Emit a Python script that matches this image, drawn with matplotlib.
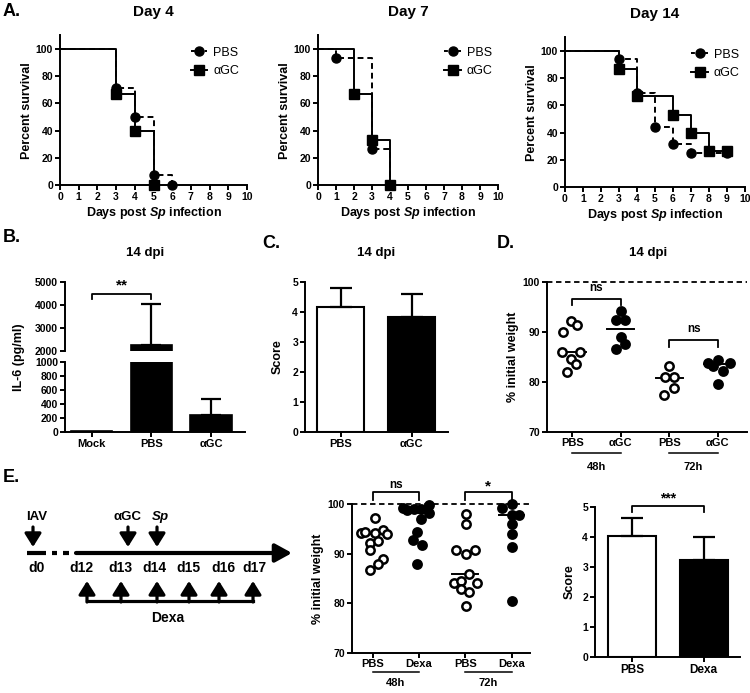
import matplotlib
matplotlib.use("Agg")
import matplotlib.pyplot as plt
from matplotlib.lines import Line2D
import numpy as np

plt.rcParams['font.family'] = ['Liberation Sans', 'DejaVu Sans']
plt.rcParams['font.weight'] = 'bold'
plt.rcParams['axes.labelweight'] = 'bold'
plt.rcParams['axes.titleweight'] = 'bold'
plt.rcParams['mathtext.fontset'] = 'custom'
plt.rcParams['mathtext.it'] = 'Liberation Sans:bold:italic'
plt.rcParams['mathtext.rm'] = 'Liberation Sans:bold'

# ---- A. survival curves (days, percent survival) ----
day4_pbs_t = [0, 3, 4, 5, 6]
day4_pbs_s = [100, 71.4, 50, 7.1, 0]
day4_agc_t = [0, 3, 4, 5]
day4_agc_s = [100, 66.7, 40, 0]
day7_pbs_t = [0, 1, 3, 4]
day7_pbs_s = [100, 93.3, 26.7, 0]
day7_agc_t = [0, 2, 3, 4]
day7_agc_s = [100, 66.7, 33.3, 0]
day14_pbs_t = [0, 3, 4, 5, 6, 7, 9]
day14_pbs_s = [100, 93.8, 68.8, 43.8, 31.3, 25, 25]
day14_agc_t = [0, 3, 4, 6, 7, 8, 9]
day14_agc_s = [100, 86.7, 66.7, 53.3, 40, 26.7, 26.7]

# ---- B. IL-6 ----
b_groups = ['Mock', 'PBS', 'αGC']
b_mean = [20, 2250, 240]
b_sd = [0, 1800, 230]

# ---- C. score ----
c_groups = ['PBS', 'αGC']
c_mean = [4.17, 3.85]
c_sd = [0.63, 0.75]

# ---- D. weight 14 dpi ----
d_labels = ['PBS', 'αGC', 'PBS', 'αGC']
d_pbs48 = [90.0, 92.3, 91.5, 86.1, 86.1, 84.7, 83.7, 82.1]
d_pbs48_jit = [-0.19, -0.03, 0.10, -0.22, 0.17, -0.03, 0.08, -0.11]
d_agc48 = [94.3, 92.5, 92.5, 89.1, 86.6, 87.6]
d_agc48_jit = [0.0, -0.1, 0.09, 0.0, -0.09, 0.09]
d_pbs72 = [83.2, 81.0, 81.0, 78.9, 77.4]
d_pbs72_jit = [0.0, -0.09, 0.09, 0.09, -0.1]
d_agc72 = [83.9, 84.4, 83.9, 83.3, 82.3, 79.6]
d_agc72_jit = [-0.21, 0.0, 0.25, -0.1, 0.1, 0.0]
d_median = [86.1, 90.6, 80.8, 83.6]

# ---- E. dexa weight ----
e_labels = ['PBS', 'Dexa', 'PBS', 'Dexa']
e_pbs48 = [97.2, 94.2, 94.4, 94.2, 94.7, 94.0, 92.2, 92.5, 90.7, 89.0, 87.9, 86.7]
e_pbs48_jit = [0.04, -0.25, -0.16, 0.04, 0.21, 0.30, -0.07, 0.11, -0.07, 0.23, 0.11, -0.07]
e_dexa48 = [99.1, 98.7, 98.9, 98.9, 99.7, 98.1, 96.9, 94.3, 92.7, 91.7, 88.0]
e_dexa48_jit = [-0.35, -0.25, -0.11, 0.05, 0.21, 0.21, 0.04, -0.04, -0.12, 0.07, -0.04]
e_pbs72 = [98.0, 95.9, 90.7, 90.0, 90.8, 85.9, 84.1, 84.5, 84.1, 82.9, 82.2, 79.5]
e_pbs72_jit = [0.01, 0.01, -0.19, 0.01, 0.2, 0.09, -0.24, -0.09, 0.26, -0.09, 0.09, 0.01]
e_dexa72 = [99.1, 99.9, 97.7, 97.7, 95.9, 93.9, 91.3, 80.5]
e_dexa72_jit = [-0.2, 0.0, 0.0, 0.17, 0.0, 0.0, 0.0, 0.0]
e_median = [94.0, 98.2, 86.0, 97.7]

# ---- E. score ----
es_groups = ['PBS', 'Dexa']
es_mean = [4.05, 3.25]
es_sd = [0.6, 0.75]

# timeline scheme
scheme_days = ['d0', 'd12', 'd13', 'd14', 'd15', 'd16', 'd17']

W, H = 750, 693
fig = plt.figure(figsize=(W / 100, H / 100), dpi=100)


def px_axes(l, t, r, b):
    return fig.add_axes([l / W, 1 - b / H, (r - l) / W, (b - t) / H])


def prism(ax, fs=7.5):
    for s in ['top', 'right']:
        ax.spines[s].set_visible(False)
    for s in ['left', 'bottom']:
        ax.spines[s].set_linewidth(1.4)
    ax.tick_params(direction='out', length=3.5, width=1.4, labelsize=fs, pad=1.5)


def bracket(ax, x1, x2, ytop, ybot, txt, ytxt, fs=9):
    ax.plot([x1, x1, x2, x2], [ybot, ytop, ytop, ybot], 'k-', lw=1.3, clip_on=False)
    ax.text((x1 + x2) / 2, ytxt, txt, ha='center', va='center', fontsize=fs, clip_on=False)


# ================= A =================
surv = [
    ("Day 4", (60, 35.4, 247, 185), day4_pbs_t, day4_pbs_s, day4_agc_t, day4_agc_s),
    ("Day 7", (318, 35.4, 498, 185), day7_pbs_t, day7_pbs_s, day7_agc_t, day7_agc_s),
    ("Day 14", (565, 37.4, 745, 187), day14_pbs_t, day14_pbs_s, day14_agc_t, day14_agc_s),
]
for title, box, pt, ps, at, as_ in surv:
    ax = px_axes(*box)
    prism(ax, 7.5)
    ax.step(at, as_, where='post', color='k', lw=1.4, ls='-')
    ax.step(pt, ps, where='post', color='k', lw=1.4, ls=(0, (3, 2)))
    ax.plot(pt[1:], ps[1:], 'o', color='k', ms=6.5, clip_on=False)
    ax.plot(at[1:], as_[1:], 's', color='k', ms=6.5, clip_on=False)
    ax.set_xlim(0, 10)
    ax.set_ylim(0, 110)
    ax.set_xticks(range(0, 11))
    ax.set_yticks(range(0, 101, 20))
    ax.set_ylabel("Percent survival", fontsize=9, labelpad=2)
    ax.set_xlabel("Days post $Sp$ infection", fontsize=9, labelpad=2)
    ax.set_title(title, fontsize=11, pad=14)
    handles = [Line2D([], [], color='k', ls=(0, (2, 1.5)), marker='o', ms=6.5, lw=1.4),
               Line2D([], [], color='k', ls='-', marker='s', ms=6.5, lw=1.4)]
    ax.legend(handles, ['PBS', 'αGC'], loc='upper left', bbox_to_anchor=(0.64, 1.0),
              frameon=False, handlelength=1.3, handletextpad=0.5, labelspacing=0.5,
              prop={'weight': 'normal', 'size': 9})

# ================= B =================
xb = np.arange(len(b_groups))
ax_up = px_axes(65, 282, 245, 351)
ax_lo = px_axes(65, 362, 245, 432)
for ax in (ax_up, ax_lo):
    prism(ax, 7.5)
    ax.bar(xb, b_mean, width=0.69, color='k', edgecolor='k', lw=1.2)
    ax.set_xlim(-0.45, 2.57)
for i in range(len(b_groups)):
    if b_sd[i] > 0:
        target = ax_up if b_mean[i] > 1000 else ax_lo
        target.errorbar(xb[i], b_mean[i], yerr=[[0], [b_sd[i]]], fmt='none', ecolor='k',
                        elinewidth=1.6, capsize=7, capthick=1.6)
ax_up.set_ylim(2000, 5000)
ax_up.set_yticks([2000, 3000, 4000, 5000])
ax_up.spines['bottom'].set_visible(False)
ax_up.set_xticks([])
ax_lo.set_ylim(0, 1000)
ax_lo.set_yticks(range(0, 1001, 200))
ax_lo.set_xticks(xb)
ax_lo.set_xticklabels(b_groups, fontsize=8)
bracket(ax_up, 0, 1, 4480, 4260, '**', 4830, fs=11)
fig.text(19 / W, 1 - 357 / H, 'IL-6 (pg/ml)', rotation=90, ha='center', va='center', fontsize=9)
fig.text(145 / W, 1 - 253 / H, '14 dpi', ha='center', va='center', fontsize=9.5)

# ================= C =================
ax = px_axes(305, 282, 448, 432)
prism(ax, 7.5)
xc = np.arange(len(c_groups))
ax.bar(xc, c_mean, width=0.66, color=['white', 'black'], edgecolor='k', lw=1.5)
ax.errorbar(xc, c_mean, yerr=[[0, 0], c_sd], fmt='none', ecolor='k', elinewidth=1.6,
            capsize=8, capthick=1.6)
ax.set_xlim(-0.5, 1.51)
ax.set_ylim(0, 5)
ax.set_yticks(range(6))
ax.set_xticks(xc)
ax.set_xticklabels(c_groups, fontsize=8)
ax.set_ylabel('Score', fontsize=9, labelpad=6)
fig.text(376 / W, 1 - 253 / H, '14 dpi', ha='center', va='center', fontsize=9.5)


# ================= D / E weight dot plots =================
def dot_plot(ax, groups, jits, medians, labels, halves):
    for i, (vals, jit) in enumerate(zip(groups, jits)):
        xs = i + np.array(jit)
        filled = i % 2 == 1
        ax.plot(xs, vals, 'o', ms=6, mew=1.8, mec='k',
                mfc='k' if filled else 'white', ls='none', clip_on=False, zorder=3)
        ax.plot([i - 0.28, i + 0.28], [medians[i], medians[i]], 'k-', lw=1.4, zorder=2)
    ax.axhline(100, color='k', ls=(0, (3, 2)), lw=1.3, clip_on=False)
    ax.set_ylim(70, 100)
    ax.set_yticks([70, 80, 90, 100])
    ax.set_xticks(range(4))
    ax.set_xticklabels(labels, fontsize=8)
    ax.tick_params(axis='x', pad=1)
    ax.set_ylabel('% initial weight', fontsize=9, labelpad=3)
    tr = ax.get_xaxis_transform()
    for k, h in enumerate(halves):
        ax.plot([2 * k, 2 * k + 1], [h[0], h[0]], 'k-', lw=1.1, transform=tr, clip_on=False)
        ax.text(2 * k + 0.5, h[1], h[2], transform=tr, ha='center', va='center', fontsize=8)


ax = px_axes(547, 282, 747, 432)
prism(ax, 7.5)
dot_plot(ax, [d_pbs48, d_agc48, d_pbs72, d_agc72],
         [d_pbs48_jit, d_agc48_jit, d_pbs72_jit, d_agc72_jit], d_median, d_labels,
         [(-0.14, -0.233, '48h'), (-0.14, -0.233, '72h')])
ax.set_xlim(-0.52, 3.6)
bracket(ax, 0, 1, 96.7, 95.4, 'ns', 98.8, fs=8.5)
bracket(ax, 2, 3, 88.4, 87.1, 'ns', 90.6, fs=8.5)
fig.text(648 / W, 1 - 253 / H, '14 dpi', ha='center', va='center', fontsize=9.5)

ax = px_axes(352, 504, 530, 653)
prism(ax, 7.5)
dot_plot(ax, [e_pbs48, e_dexa48, e_pbs72, e_dexa72],
         [e_pbs48_jit, e_dexa48_jit, e_pbs72_jit, e_dexa72_jit], e_median, e_labels,
         [(-0.13, -0.2, '48h'), (-0.13, -0.2, '72h')])
ax.set_xlim(-0.45, 3.4)
bracket(ax, 0, 1, 102.4, 100.9, 'ns', 103.9, fs=8.5)
bracket(ax, 2, 3, 102.4, 100.9, '*', 103.6, fs=11)

# ================= E score =================
ax = px_axes(595, 507, 740, 657)
prism(ax, 7.5)
xe = np.arange(len(es_groups))
ax.bar(xe, es_mean, width=0.67, color=['white', 'black'], edgecolor='k', lw=1.5)
ax.errorbar(xe, es_mean, yerr=[[0, 0], es_sd], fmt='none', ecolor='k', elinewidth=1.6,
            capsize=8, capthick=1.6)
ax.set_xlim(-0.52, 1.51)
ax.set_ylim(0, 5)
ax.set_yticks(range(6))
ax.set_xticks(xe)
ax.set_xticklabels(es_groups, fontsize=8.5)
ax.set_ylabel('Score', fontsize=9, labelpad=5)
bracket(ax, 0, 1, 5.03, 4.85, '***', 5.3, fs=10)

# ================= E scheme (pixel space) =================
sc = fig.add_axes([0, 0, 1, 1])
sc.set_xlim(0, W)
sc.set_ylim(H, 0)
sc.axis('off')
sc.patch.set_visible(False)

arrow_kw = dict(arrowstyle='-|>,head_width=0.5,head_length=0.8', lw=2.3, color='k',
                shrinkA=0, shrinkB=0)
# timeline
sc.plot([27, 46], [553, 553], 'k-', lw=3, solid_capstyle='butt')
sc.plot([52, 57], [553, 553], 'k-', lw=3, solid_capstyle='butt')
sc.plot([63, 69], [553, 553], 'k-', lw=3, solid_capstyle='butt')
sc.annotate('', xy=(292, 553), xytext=(76, 553),
            arrowprops=dict(arrowstyle='-|>,head_width=0.55,head_length=1.0', lw=3,
                            color='k', shrinkA=0, shrinkB=0))
day_x = [37, 81, 120, 154, 188, 223, 254]
for lab, x in zip(scheme_days, day_x):
    sc.text(x, 568, lab, ha='center', va='center', fontsize=10)
# top arrows
for txt, x, tx in [('IAV', 33, 37), ('αGC', 128, 127), ('$Sp$', 157, 160)]:
    sc.annotate('', xy=(x, 547), xytext=(x, 527), arrowprops=arrow_kw)
    sc.text(tx, 517, txt, ha='center', va='center', fontsize=9.5)
# dexa arrows
dexa_x = [87, 121, 157, 189, 219, 253]
sc.plot([dexa_x[0], dexa_x[-1]], [601, 601], 'k-', lw=2.3)
for x in dexa_x:
    sc.annotate('', xy=(x, 581), xytext=(x, 602), arrowprops=arrow_kw)
sc.text(168, 618, 'Dexa', ha='center', va='center', fontsize=10)

# panel letters
for lab, x, y in [('A.', 3, 12), ('B.', 3, 237), ('C.', 262, 243), ('D.', 497, 243), ('E.', 3, 477)]:
    fig.text(x / W, 1 - y / H, lab, ha='left', va='center', fontsize=13)

fig.savefig('out.png', dpi=100)
